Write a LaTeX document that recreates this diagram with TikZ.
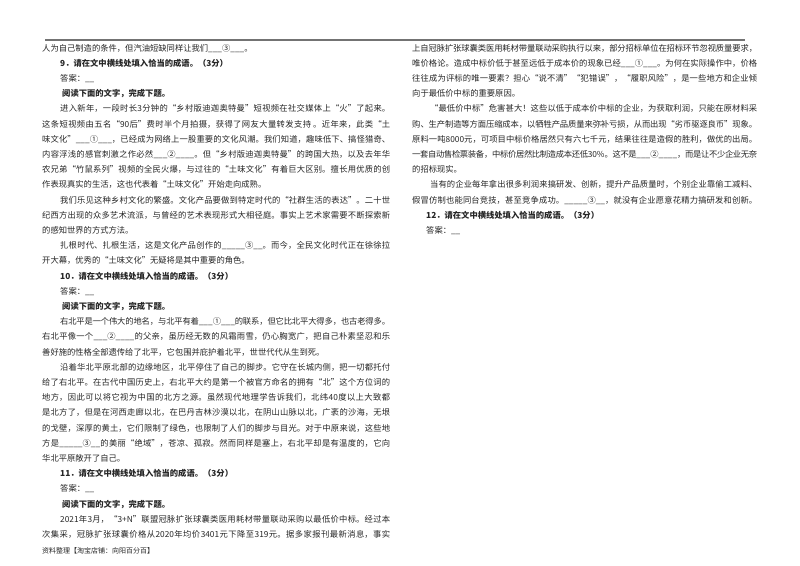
\documentclass[tikz,border=0pt]{standalone}
\usepackage{fontspec}
\setmainfont{Noto Sans CJK SC}
\XeTeXlinebreaklocale "zh"
\XeTeXlinebreakskip=0pt plus 2pt minus 0.4pt
\newcommand\fl[4]{\node[txt,anchor=base west] at (#1pt,-#2pt-3pt) {\parbox[b]{#3pt}{\parfillskip=0pt\relax #4}};}
\newcommand\pl[3]{\node[txt,anchor=base west] at (#1pt,-#2pt-3pt) {#3};}
\newcommand\bl[3]{\node[txt,anchor=base west,font=\fontsize{8.3}{10}\selectfont\bfseries] at (#1pt,-#2pt-3pt) {#3};}
\begin{document}
\begin{tikzpicture}[txt/.style={inner sep=0pt,text=black!85,font=\fontsize{8.3}{10}\selectfont}]
\useasboundingbox (0,0) rectangle (800pt,-565pt);
\fill[white] (0,0) rectangle (800pt,-565pt);
\draw[black!55,line width=1.5pt] (45pt,-40pt) -- (745pt,-40pt);
% left column
\pl{42}{48}{人为自己制造的条件，但汽油短缺同样让我们\_\_\_③\_\_\_。}
\bl{60}{63.2}{9．请在文中横线处填入恰当的成语。（3分）}
\pl{60}{78.4}{答案：\_\_}
\bl{62}{93.6}{阅读下面的文字，完成下题。}
\fl{60}{108.8}{330}{进入新年，一段时长3分钟的“乡村版迪迦奥特曼”短视频在社交媒体上“火”了起来。}
\fl{42}{124}{348}{这条短视频由五名“90后”费时半个月拍摄，获得了网友大量转发支持 。近年来，此类“土}
\fl{42}{139.2}{348}{味文化”\_\_\_①\_\_\_，已经成为网络上一股重要的文化风潮。我们知道，趣味低下、搞怪猎奇、}
\fl{42}{154.4}{348}{内容浮浅的感官刺激之作必然\_\_\_②\_\_\_\_。但“乡村版迪迦奥特曼”的跨国大热，以及去年华}
\fl{42}{169.6}{348}{农兄弟“竹鼠系列”视频的全民火爆，与过往的“土味文化”有着巨大区别。擅长用优质的创}
\pl{42}{184.8}{作表现真实的生活，这也代表着“土味文化”开始走向成熟。}
\fl{60}{200}{330}{我们乐见这种乡村文化的繁盛。文化产品要做到特定时代的“社群生活的表达”。二十世}
\fl{42}{215.2}{348}{纪西方出现的众多艺术流派，与曾经的艺术表现形式大相径庭。事实上艺术家需要不断探索新}
\pl{42}{230.4}{的感知世界的方式方法。}
\fl{60}{245.6}{330}{扎根时代、扎根生活，这是文化产品创作的\_\_\_\_\_③\_\_。而今，全民文化时代正在徐徐拉}
\pl{42}{260.8}{开大幕，优秀的“土味文化”无疑将是其中重要的角色。}
\bl{60}{276}{10．请在文中横线处填入恰当的成语。（3分）}
\pl{60}{291.2}{答案：\_\_}
\bl{62}{306.4}{阅读下面的文字，完成下题。}
\fl{60}{321.6}{330}{右北平是一个伟大的地名，与北平有着\_\_\_①\_\_\_的联系，但它比北平大得多，也古老得多。}
\fl{42}{336.8}{348}{右北平像一个\_\_\_②\_\_\_\_的父亲，虽历经无数的风霜雨雪，仍心胸宽广，把自己朴素坚忍和乐}
\pl{42}{352}{善好施的性格全部遗传给了北平，它包围并庇护着北平，世世代代从生到死。}
\fl{60}{367.2}{330}{沿着华北平原北部的边缘地区，北平停住了自己的脚步。它守在长城内侧，把一切都托付}
\fl{42}{382.4}{348}{给了右北平。在古代中国历史上，右北平大约是第一个被官方命名的拥有“北”这个方位词的}
\fl{42}{397.6}{348}{地方，因此可以将它视为中国的北方之源。虽然现代地理学告诉我们，北纬40度以上大致都}
\fl{42}{412.8}{348}{是北方了，但是在河西走廊以北，在巴丹吉林沙漠以北，在阴山山脉以北，广袤的沙海，无垠}
\fl{42}{428}{348}{的戈壁，深厚的黄土，它们限制了绿色，也限制了人们的脚步与目光。对于中原来说，这些地}
\fl{42}{443.2}{348}{方是\_\_\_\_\_③\_\_的美丽“绝域”，苍凉、孤寂。然而同样是塞上，右北平却是有温度的，它向}
\pl{42}{458.4}{华北平原敞开了自己。}
\bl{60}{473.6}{11．请在文中横线处填入恰当的成语。（3分）}
\pl{60}{488.8}{答案：\_\_}
\bl{62}{504}{阅读下面的文字，完成下题。}
\fl{60}{519.2}{330}{2021年3月，“3+N”联盟冠脉扩张球囊类医用耗材带量联动采购以最低价中标。经过本}
\fl{42}{534.4}{348}{次集采，冠脉扩张球囊价格从2020年均价3401元下降至319元。据多家报刊最新消息，事实}
\node[txt,anchor=base west,font=\fontsize{7}{8}\selectfont] at (42pt,-553pt) {资料整理【淘宝店铺：向阳百分百】};
% right column
\fl{412}{48}{345}{上自冠脉扩张球囊类医用耗材带量联动采购执行以来，部分招标单位在招标环节忽视质量要求，}
\fl{412}{63.2}{345}{唯价格论。造成中标价低于甚至远低于成本价的现象已经\_\_\_①\_\_\_。为何在实际操作中，价格}
\fl{412}{78.4}{345}{往往成为评标的唯一要素？担心“说不清”“犯错误”，“履职风险”，是一些地方和企业倾}
\pl{412}{93.6}{向于最低价中标的重要原因。}
\fl{430}{108.8}{327}{“最低价中标”危害甚大！这些以低于成本价中标的企业，为获取利润，只能在原材料采}
\fl{412}{124}{345}{购、生产制造等方面压缩成本，以牺牲产品质量来弥补亏损，从而出现“劣币驱逐良币”现象。}
\fl{412}{139.2}{345}{原料一吨8000元，可项目中标价格居然只有六七千元，结果往往是造假的胜利，做优的出局。}
\fl{412}{154.4}{345}{一套自动售检票装备，中标价居然比制造成本还低30\%。这不是\_\_\_②\_\_\_\_，而是让不少企业无奈}
\pl{412}{169.6}{的招标现实。}
\fl{430}{184.8}{327}{当有的企业每年拿出很多利润来搞研发、创新，提升产品质量时，个别企业靠偷工减料、}
\fl{412}{200}{345}{假冒仿制也能同台竞技，甚至竞争成功。\_\_\_\_\_③\_\_，就没有企业愿意花精力搞研发和创新。}
\bl{426}{215.2}{12．请在文中横线处填入恰当的成语。（3分）}
\pl{426}{230.4}{答案：\_\_}
\end{tikzpicture}
\end{document}
